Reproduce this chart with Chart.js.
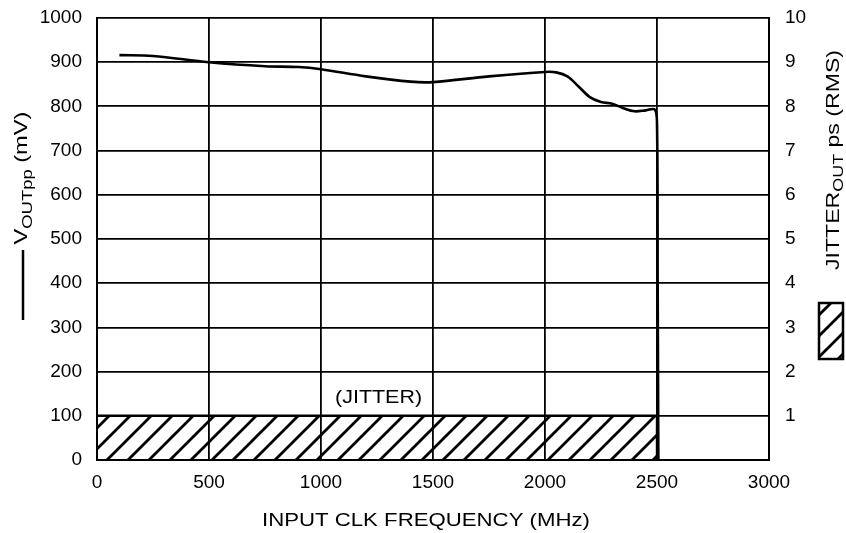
<!DOCTYPE html>
<html>
<head>
<meta charset="UTF-8">
<title>VOUTpp / JITTER vs INPUT CLK FREQUENCY</title>
<style type="text/css">
body { margin: 0; background: #fff; }
</style>
</head>
<body>
<canvas id="myChart" width="846" height="533"></canvas>

<script src="https://cdn.jsdelivr.net/npm/chart.js@4.4.0/dist/chart.umd.min.js"></script>
<script>
	// VOUTpp (mV) vs input clock frequency (MHz)
	const freqMHz = [100, 250, 500, 750, 900, 1000, 1200, 1400, 1500, 1750, 2000, 2050, 2100, 2150, 2200, 2250, 2300, 2350, 2400, 2450, 2490, 2500, 2503, 2506];
	const voutMv  = [916, 914, 900, 891, 889, 884, 868, 856, 855, 868, 878, 877, 868, 845, 821, 810, 806, 796, 789, 791, 793, 760, 400, 0];

	// jitter block (right axis, ps RMS)
	const jitterFreq = [0, 2500, 2500];
	const jitterPs   = [1, 1, 0];

	// axis ranges [min, max, step]
	const xTicks  = [0, 3000, 500];
	const yTicks  = [0, 1000, 100];
	const y2Ticks = [0, 10, 1];

	const FONT = 'Liberation Sans, Arial, Helvetica, sans-serif';

	// hatch pattern "/"
	function makeHatch() {
		let c = document.createElement('canvas');
		c.width = 21; c.height = 21;
		let g = c.getContext('2d');
		g.strokeStyle = '#000';
		g.lineWidth = 2.8;
		g.beginPath();
		g.moveTo(-5, 26); g.lineTo(26, -5);
		g.moveTo(-15, 15); g.lineTo(15, -15);
		g.moveTo(6, 36); g.lineTo(36, 6);
		g.stroke();
		return document.getElementById('myChart').getContext('2d').createPattern(c, 'repeat');
	}
	const hatch = makeHatch();

	// text with a subscript part, rotated -90deg, stretched to a given length
	function drawSubTitle(ctx, parts, baseX, cy, len) {
		ctx.save();
		let total = 0;
		parts.forEach(function(p) {
			ctx.font = p.size + 'px ' + FONT;
			p.w = ctx.measureText(p.text).width;
			total += p.w;
		});
		ctx.translate(baseX, cy);
		ctx.rotate(-Math.PI / 2);
		ctx.scale(len / total, 1);
		ctx.fillStyle = '#000';
		ctx.textBaseline = 'alphabetic';
		ctx.textAlign = 'left';
		let x = -total / 2;
		parts.forEach(function(p) {
			ctx.font = p.size + 'px ' + FONT;
			ctx.fillText(p.text, x, p.dy);
			x += p.w;
		});
		ctx.restore();
	}

	// plain text stretched to a given width
	function drawWide(ctx, text, cx, cy, size, len) {
		ctx.save();
		ctx.font = size + 'px ' + FONT;
		let w = ctx.measureText(text).width;
		ctx.translate(cx, cy);
		ctx.scale(len / w, 1);
		ctx.fillStyle = '#000';
		ctx.textAlign = 'center';
		ctx.textBaseline = 'middle';
		ctx.fillText(text, 0, 0);
		ctx.restore();
	}

	const extras = {
		id: 'extras',
		afterDraw: function(chart) {
			let ctx = chart.ctx;
			let xs = chart.scales.x, ys = chart.scales.y;

			// axis titles
			drawSubTitle(ctx, [
				{text: 'V', size: 18, dy: 0},
				{text: 'OUTpp', size: 14, dy: 5},
				{text: ' (mV)', size: 18, dy: 0}
			], 27, 178, 133);
			drawSubTitle(ctx, [
				{text: 'JITTER', size: 18, dy: 0},
				{text: 'OUT', size: 14, dy: 4},
				{text: ' ps (RMS)', size: 18, dy: 0}
			], 839, 160, 220);

			drawWide(ctx, 'INPUT CLK FREQUENCY (MHz)', 426, 521, 18, 328);
			drawWide(ctx, '(JITTER)', xs.getPixelForValue(1257), ys.getPixelForValue(140), 18, 87);

			// legend marks
			ctx.save();
			ctx.strokeStyle = '#000';
			ctx.lineWidth = 2.5;
			ctx.beginPath();
			ctx.moveTo(23, 250); ctx.lineTo(23, 320);
			ctx.stroke();

			ctx.fillStyle = hatch;
			ctx.fillRect(819, 303, 24, 56);
			ctx.lineWidth = 2.5;
			ctx.strokeRect(819, 303, 24, 56);
			ctx.restore();
		}
	};

	// fixed axis sizes, no extra label overflow padding
	function fitY(w) {
		return function(s) { s.width = w; s.paddingTop = 0; s.paddingBottom = 0; };
	}

	const tickFont = { size: 19, family: FONT };
	const ctx = document.getElementById('myChart').getContext('2d');
	const chart = new Chart(ctx, {
		type: 'line',
		data: {
			datasets: [{
				label: 'VOUTpp',
				data: freqMHz.map(function(f, i) { return {x: f, y: voutMv[i]}; }),
				yAxisID: 'y',
				borderColor: '#000',
				borderWidth: 2.6,
				pointRadius: 0,
				tension: 0.35,
				fill: false
			}, {
				label: 'JITTER',
				data: jitterFreq.map(function(f, i) { return {x: f, y: jitterPs[i]}; }),
				yAxisID: 'y2',
				borderColor: '#000',
				borderWidth: 2.4,
				backgroundColor: hatch,
				pointRadius: 0,
				tension: 0,
				fill: 'origin'
			}]
		},
		plugins: [extras],
		options: {
			responsive: false,
			animation: false,
			devicePixelRatio: 1,
			layout: { padding: { top: 18, bottom: 0, left: 0, right: 0 } },
			plugins: { legend: { display: false }, tooltip: { enabled: false } },
			scales: {
				x: {
					type: 'linear',
					min: xTicks[0], max: xTicks[1],
					ticks: {
						stepSize: xTicks[2], color: '#000', font: tickFont, padding: 11, maxRotation: 0,
						callback: function(v) { return String(v); }
					},
					grid: { color: '#000', lineWidth: 1.8, drawTicks: false },
					border: { color: '#000', width: 2 },
					afterFit: function(s) { s.height = 73; s.paddingLeft = 0; s.paddingRight = 0; }
				},
				y: {
					position: 'left',
					min: yTicks[0], max: yTicks[1],
					ticks: {
						stepSize: yTicks[2], color: '#000', font: tickFont, padding: 15,
						callback: function(v) { return String(v); }
					},
					grid: { color: '#000', lineWidth: 1.8, drawTicks: false },
					border: { color: '#000', width: 2 },
					afterFit: fitY(97)
				},
				y2: {
					position: 'right',
					min: y2Ticks[0], max: y2Ticks[1],
					ticks: {
						stepSize: y2Ticks[2], color: '#000', font: tickFont, padding: 16,
						callback: function(v) { return v === 0 ? '' : String(v); }
					},
					grid: { display: false, drawTicks: false },
					border: { color: '#000', width: 2 },
					afterFit: fitY(77)
				}
			}
		}
	});
</script>
</body>
</html>
